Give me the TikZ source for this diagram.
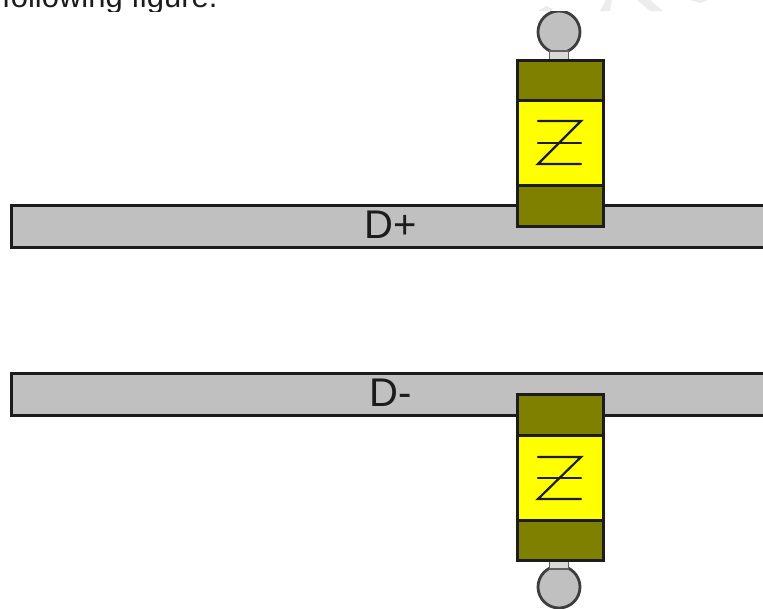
\documentclass[tikz,border=0pt]{standalone}
\usepackage{fontspec}
\setmainfont{Liberation Sans}
\definecolor{barfill}{HTML}{C0C0C0}
\definecolor{capfill}{HTML}{808000}
\definecolor{bodyfill}{HTML}{FFFF00}
\definecolor{ink}{HTML}{1C1C1C}
\definecolor{paleshade}{HTML}{ECECEC}
\tikzset{
  box/.style={draw=ink,line width=3pt,inner sep=0pt,outer sep=0pt,anchor=north west},
  busbar/.style={box,fill=barfill,minimum width=780pt,minimum height=42pt},
  capband/.style={box,fill=capfill,minimum width=86pt,minimum height=41pt},
  bodyband/.style={box,fill=bodyfill,minimum width=86pt,minimum height=85pt},
  ball/.style={circle,draw=ink!85,line width=2.8pt,fill=barfill,minimum size=42pt,inner sep=0pt},
  stub/.style={draw=ink!70,line width=1.2pt,fill=barfill!60,inner sep=0pt,minimum width=19pt,minimum height=10pt},
  zmark/.style={draw=ink,line width=2.2pt,line cap=round},
  buslabel/.style={font=\fontsize{40}{40}\selectfont,text=ink,inner sep=0pt,anchor=base}
}
\begin{document}
\begin{tikzpicture}[x=1pt,y=-1pt]
\useasboundingbox (0,0) rectangle (763,608);
\clip (0,0) rectangle (763,608);
\fill[white] (0,0) rectangle (763,608);
% page fragments cut by the crop
\begin{scope}
\clip (0,0) rectangle (763,11);
\fill[paleshade] (538,11) -- (546,6) -- (553,9) -- (550,11) -- cycle;
\fill[paleshade] (600,11) -- (606,0) -- (612,0) -- (610,11) -- cycle;
\fill[paleshade] (637,0) -- (650,0) -- (663,11) -- (650,11) -- cycle;
\fill[paleshade] (690,0) -- (708,0) -- (700,3) -- cycle;
\node[anchor=base west,inner sep=0pt,font=\fontsize{31}{31}\selectfont,text=ink] (caption) at (2,7) {following figure.};
\end{scope}
% D+
\node[busbar] (busP) at (11,205) {};
\node[buslabel] (labelP) at (391,238) {D+};
\begin{scope}
\clip (0,11) rectangle (763,608);
\node[ball] (ballP) at (559,32) {};
\end{scope}
\node[stub] (stubP) at (559,56) {};
\node[capband] (capPa) at (517,60) {};
\node[capband] (capPb) at (517,185) {};
\node[bodyband] (bodyP) at (517,100) {};
\coordinate (zPa) at (538,121); \coordinate (zPb) at (581,121);
\coordinate (zPc) at (538,164); \coordinate (zPd) at (581,164);
\coordinate (zPe) at (538,143); \coordinate (zPf) at (581,143);
\draw[zmark] (zPa) -- (zPb) -- (zPc) -- (zPd);
\draw[zmark] (zPe) -- (zPf);
% D-
\node[busbar] (busM) at (11,373) {};
\node[buslabel] (labelM) at (391,406) {D-};
\node[ball] (ballM) at (559,587) {};
\node[stub] (stubM) at (559,564) {};
\node[capband] (capMa) at (517,394) {};
\node[capband] (capMb) at (517,519) {};
\node[bodyband] (bodyM) at (517,435) {};
\coordinate (zMa) at (538,457); \coordinate (zMb) at (581,457);
\coordinate (zMc) at (538,499); \coordinate (zMd) at (581,499);
\coordinate (zMe) at (538,478); \coordinate (zMf) at (581,478);
\draw[zmark] (zMa) -- (zMb) -- (zMc) -- (zMd);
\draw[zmark] (zMe) -- (zMf);
\end{tikzpicture}
\end{document}
